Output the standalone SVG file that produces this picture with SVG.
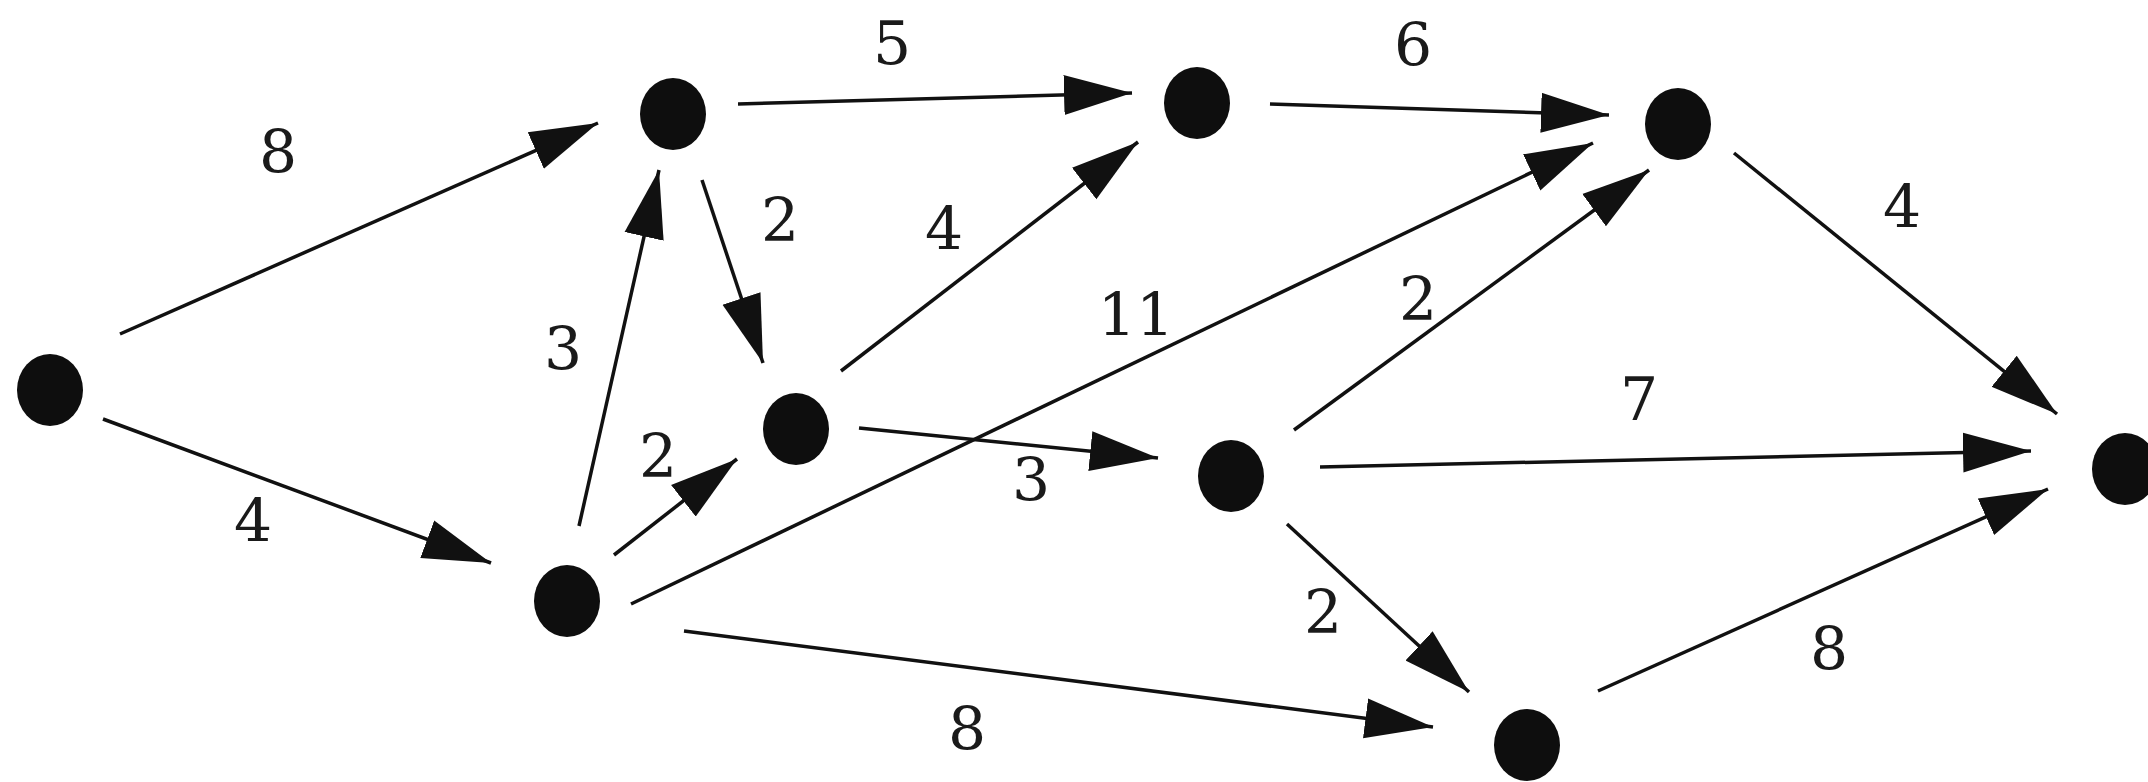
<svg xmlns="http://www.w3.org/2000/svg" width="2148" height="782" viewBox="0 0 2148 782">
<defs>
<style>
.node { fill: #0e0e0e; }
.edge { stroke: #111; stroke-width: 3.5; fill: none; marker-end: url(#arr); }
.lbl { font-family: "DejaVu Serif", "Liberation Serif", serif; font-size: 60px; fill: #1a1a1a; text-anchor: middle; }
</style>
<marker id="arr" markerUnits="userSpaceOnUse" markerWidth="70" markerHeight="42" viewBox="0 0 70 42" refX="68" refY="21" orient="auto">
<path d="M0,1 L68,21 L0,41 z" fill="#111"/>
</marker>
</defs>
<rect width="2148" height="782" fill="#ffffff"/>
<g id="connectors">
<line class="edge" x1="120" y1="334" x2="598" y2="123"/>
<line class="edge" x1="103" y1="419" x2="491" y2="563"/>
<line class="edge" x1="579" y1="526" x2="659" y2="170"/>
<line class="edge" x1="614" y1="555" x2="737" y2="459"/>
<line class="edge" x1="631" y1="604" x2="1593" y2="143"/>
<line class="edge" x1="684" y1="631" x2="1433" y2="727"/>
<line class="edge" x1="738" y1="104" x2="1132" y2="93"/>
<line class="edge" x1="702" y1="180" x2="763" y2="363"/>
<line class="edge" x1="841" y1="371" x2="1138" y2="142"/>
<line class="edge" x1="859" y1="428" x2="1158" y2="458"/>
<line class="edge" x1="1270" y1="104" x2="1609" y2="115"/>
<line class="edge" x1="1294" y1="430" x2="1649" y2="170"/>
<line class="edge" x1="1320" y1="467" x2="2031" y2="451"/>
<line class="edge" x1="1287" y1="524" x2="1469" y2="692"/>
<line class="edge" x1="1734" y1="153" x2="2057" y2="414"/>
<line class="edge" x1="1598" y1="691" x2="2048" y2="489"/>
</g>
<g id="labels">
<text class="lbl" x="278" y="173">8</text>
<text class="lbl" x="253" y="542">4</text>
<text class="lbl" x="563" y="370">3</text>
<text class="lbl" x="658" y="477">2</text>
<text class="lbl" x="892" y="64">5</text>
<text class="lbl" x="780" y="241">2</text>
<text class="lbl" x="944" y="250">4</text>
<text class="lbl" x="1136" y="336">11</text>
<text class="lbl" x="1031" y="501">3</text>
<text class="lbl" x="967" y="750">8</text>
<text class="lbl" x="1413" y="66">6</text>
<text class="lbl" x="1418" y="320">2</text>
<text class="lbl" x="1639" y="420">7</text>
<text class="lbl" x="1323" y="633">2</text>
<text class="lbl" x="1829" y="670">8</text>
<text class="lbl" x="1902" y="228">4</text>
</g>
<g id="nA"><ellipse class="node" cx="50" cy="390" rx="33" ry="36"/></g>
<g id="nB"><ellipse class="node" cx="673" cy="114" rx="33" ry="36"/></g>
<g id="nC"><ellipse class="node" cx="567" cy="601" rx="33" ry="36"/></g>
<g id="nD"><ellipse class="node" cx="796" cy="429" rx="33" ry="36"/></g>
<g id="nE"><ellipse class="node" cx="1197" cy="103" rx="33" ry="36"/></g>
<g id="nF"><ellipse class="node" cx="1678" cy="124" rx="33" ry="36"/></g>
<g id="nG"><ellipse class="node" cx="1231" cy="476" rx="33" ry="36"/></g>
<g id="nH"><ellipse class="node" cx="1527" cy="745" rx="33" ry="36"/></g>
<g id="nI"><ellipse class="node" cx="2125" cy="469" rx="33" ry="36"/></g>
</svg>
